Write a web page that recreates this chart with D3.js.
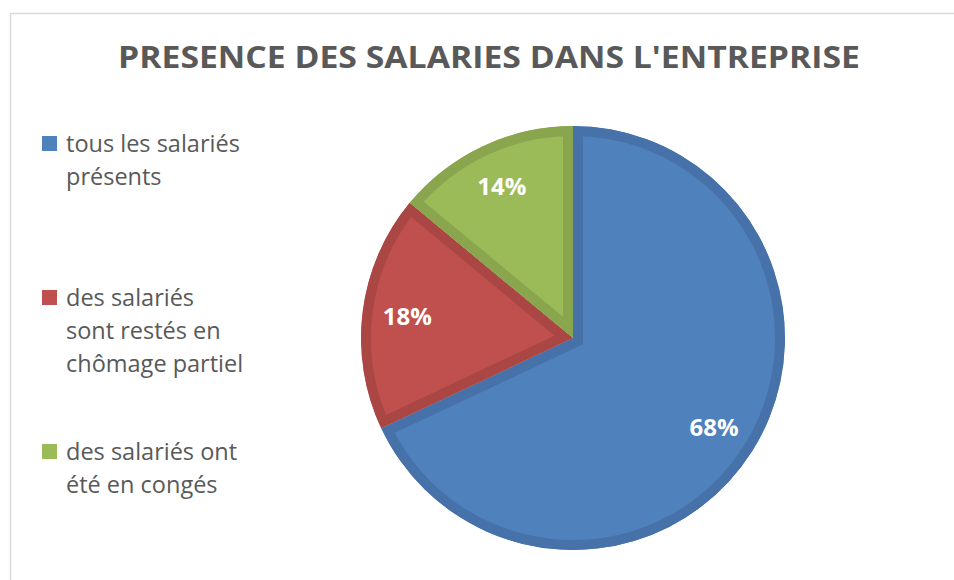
<!DOCTYPE html>
<html>
<head>
<meta charset="utf-8">
<script src="https://cdn.jsdelivr.net/npm/d3@7"></script>
<style>
  html, body { margin: 0; padding: 0; background: #fff; overflow: hidden; }
  svg { display: block; }
</style>
</head>
<body>
<div id="chart"></div>
<script>
// chart data
const title = "PRESENCE DES SALARIES DANS L'ENTREPRISE";
const categories = [
    "tous les salariés présents",
    "des salariés sont restés en chômage partiel",
    "des salariés ont été en congés"
];
// legend text as Excel wrapped it
const legendLines = [
    ["tous les salariés", "présents"],
    ["des salariés", "sont restés en", "chômage partiel"],
    ["des salariés ont", "été en congés"]
];
const values = [68, 18, 14];
const fillColors = ["#4f81bd", "#c0504d", "#9bbb59"];
const edgeColors = ["#4772a9", "#aa4744", "#89a64f"];

const width = 954;
const height = 580;
const font = "'Open Sans', 'DejaVu Sans', sans-serif";
const textColor = '#595959';

const svg = d3.select('#chart')
    .append('svg')
    .attr('width', width)
    .attr('height', height);

// chart area frame (runs off the right and bottom of the picture)
svg.append('rect')
    .attr('x', 10.5)
    .attr('y', 13.5)
    .attr('width', 1000)
    .attr('height', 700)
    .attr('fill', '#fff')
    .attr('stroke', '#d9d9d9')
    .attr('stroke-width', 1.5);

svg.append('text')
    .attr('x', 489)
    .attr('y', 68)
    .attr('text-anchor', 'middle')
    .attr('fill', textColor)
    .attr('font-family', font)
    .attr('font-size', '31px')
    .attr('font-weight', '700')
    .attr('textLength', 742)
    .attr('lengthAdjust', 'spacingAndGlyphs')
    .text(title);

// pie
const cx = 573, cy = 338, radius = 212;
const pie = d3.pie().sort(null).value(d => d);
const arcs = pie(values);
const arc = d3.arc().innerRadius(0).outerRadius(radius);
const labelArc = d3.arc().innerRadius(167).outerRadius(167);
const total = d3.sum(values);

const g = svg.append('g')
    .attr('transform', `translate(${cx},${cy})`);

const defs = svg.append('defs');
arcs.forEach((d, i) => {
    defs.append('clipPath')
        .attr('id', `slice-clip-${i}`)
        .append('path')
        .attr('d', arc(d));
});

// border is drawn twice as wide and clipped, so it sits inside each slice
g.selectAll('path.slice')
    .data(arcs)
    .join('path')
    .attr('class', 'slice')
    .attr('d', arc)
    .attr('fill', (d, i) => fillColors[i])
    .attr('stroke', (d, i) => edgeColors[i])
    .attr('stroke-width', 20)
    .attr('stroke-linejoin', 'miter')
    .attr('clip-path', (d, i) => `url(#slice-clip-${i})`);

g.selectAll('text.pct')
    .data(arcs)
    .join('text')
    .attr('class', 'pct')
    .attr('transform', d => `translate(${labelArc.centroid(d)})`)
    .attr('dy', '0.35em')
    .attr('text-anchor', 'middle')
    .attr('fill', '#fff')
    .attr('font-family', font)
    .attr('font-size', '24px')
    .attr('font-weight', '700')
    .text(d => `${Math.round(d.data / total * 100)}%`);

// legend
const legendTop = [152, 306, 460];
const lineHeight = 33;
const legend = svg.append('g');

categories.forEach((name, i) => {
    const y = legendTop[i];
    legend.append('rect')
        .attr('x', 42)
        .attr('y', y - 16)
        .attr('width', 15)
        .attr('height', 15)
        .attr('fill', fillColors[i]);

    const t = legend.append('text')
        .attr('x', 66)
        .attr('y', y)
        .attr('fill', textColor)
        .attr('font-family', font)
        .attr('font-size', '23.5px');

    legendLines[i].forEach((line, k) => {
        t.append('tspan')
            .attr('x', 66)
            .attr('dy', k === 0 ? 0 : lineHeight)
            .text(line);
    });
});
</script>
</body>
</html>
